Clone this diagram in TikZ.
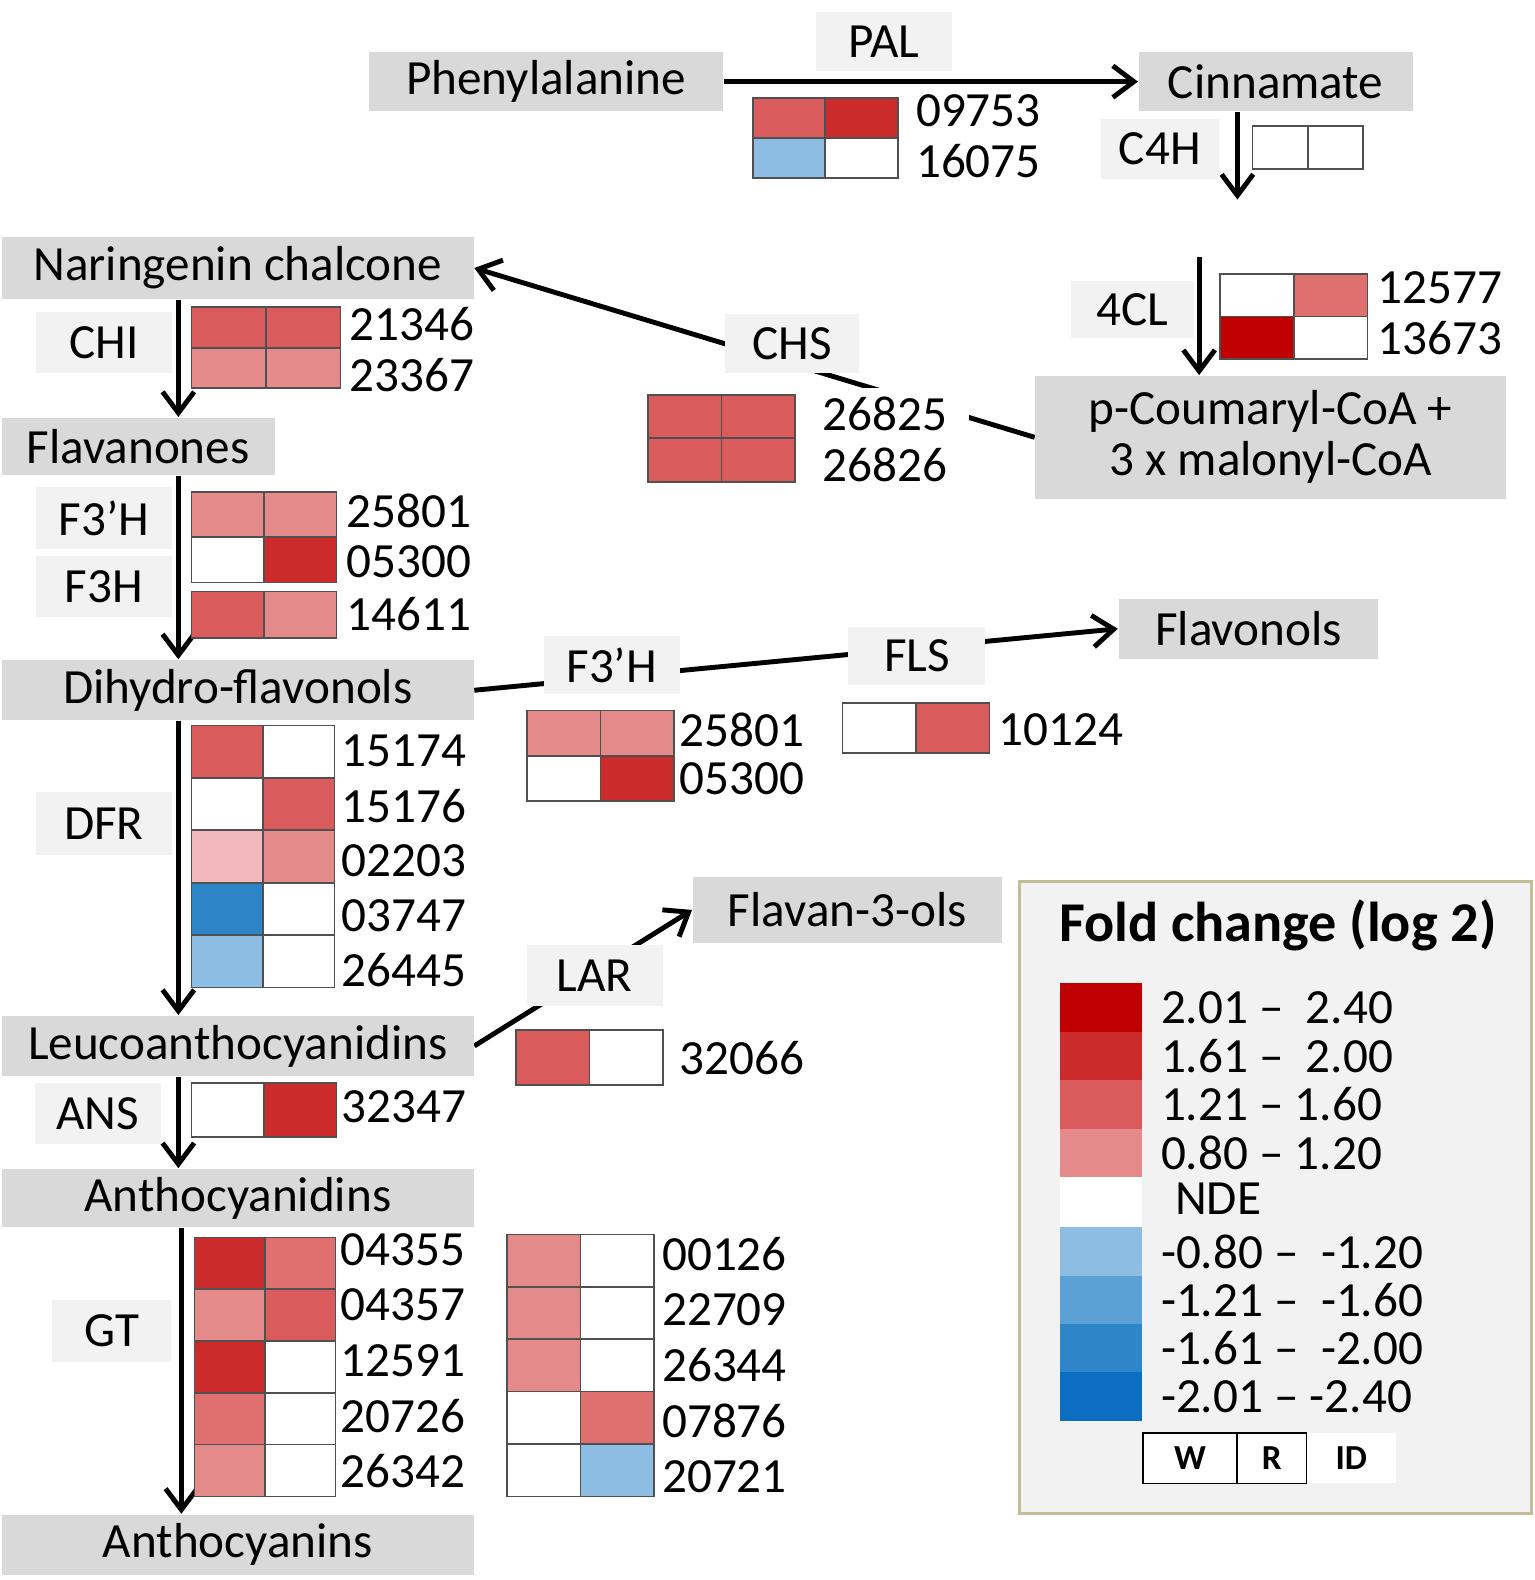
\documentclass[tikz,border=0pt]{standalone}
\usepackage{fontspec}
\setmainfont{Carlito}
\usepackage{tikz}
\usetikzlibrary{arrows.meta,backgrounds}

\definecolor{cmpgray}{HTML}{D9D9D9}
\definecolor{enzgray}{HTML}{F2F2F2}
\definecolor{cellgray}{HTML}{505050}
\definecolor{legframe}{HTML}{C4BD97}
\definecolor{fc1}{HTML}{C00000}
\definecolor{fc2}{HTML}{CC2B2B}
\definecolor{fc3}{HTML}{D95B5B}
\definecolor{fcm}{HTML}{E07070}
\definecolor{fc4}{HTML}{E48A8A}
\definecolor{fcl}{HTML}{F0B8BA}
\definecolor{nb1}{HTML}{8DBDE2}
\definecolor{nb2}{HTML}{5BA1D6}
\definecolor{nb3}{HTML}{2E86C9}
\definecolor{nb4}{HTML}{0B6EC0}

\newcommand{\pathfont}{\fontsize{14}{14.5}\selectfont}

\tikzset{
	boxsize/.style 2 args={minimum width=#1*0.01008cm, minimum height=#2*0.01008cm},
	compound/.style={fill=cmpgray, inner sep=0pt, font=\pathfont},
	enzyme/.style={fill=enzgray, inner sep=0pt, font=\pathfont},
	geneid/.style={anchor=west, inner sep=1pt, font=\pathfont},
	cell/.style={draw=cellgray, line width=0.5pt},
	pathway/.style={line width=1.4pt, -{Straight Barb[length=6pt,width=9pt,line width=1.4pt]}},
	legkey/.style={inner sep=0pt, font=\fontsize{10}{12}\selectfont\bfseries},
}

\begin{document}
\begin{tikzpicture}[x=0.01008cm, y=-0.01008cm]
	\useasboundingbox (0,0) rectangle (1523,1568);

	% Compounds
	\node[compound, boxsize={351}{58}] (phe) at (542,81) {Phenylalanine};
	\node[compound, boxsize={272}{58}] (cin) at (1266,81) {Cinnamate};
	\node[compound, boxsize={467}{122}, align=center] (cou) at (1261,434) {p-Coumaryl-CoA +\\3 x malonyl-CoA};
	\node[compound, boxsize={468}{62}] (nar) at (236,266) {Naringenin chalcone};
	\node[compound, boxsize={271}{57}] (flan) at (137,443) {Flavanones};
	\node[compound, boxsize={468}{60}] (dih) at (236,685) {Dihydro-flavonols};
	\node[compound, boxsize={258}{60}] (flavonols) at (1239,624) {Flavonols};
	\node[compound, boxsize={468}{60}] (leu) at (236,1038) {Leucoanthocyanidins};
	\node[compound, boxsize={307}{65}] (flavan) at (841,903) {Flavan-3-ols};
	\node[compound, boxsize={468}{58}] (anthd) at (236,1189) {Anthocyanidins};
	\node[compound, boxsize={468}{60}] (anthn) at (236,1533) {Anthocyanins};

	% Enzymes
	\node[enzyme, boxsize={135}{58}] (pal) at (877,41) {PAL};
	\node[enzyme, boxsize={117}{60}] (c4h) at (1151,148) {C4H};
	\node[enzyme, boxsize={122}{56}] (cl4) at (1124,307) {4CL};
	\node[enzyme, boxsize={133}{58}] (chs) at (786,341) {CHS};
	\node[enzyme, boxsize={135}{60}] (chi) at (103,340) {CHI};
	\node[enzyme, boxsize={135}{62}] (fth) at (103,514) {F3’H};
	\node[enzyme, boxsize={135}{60}] (fh) at (103,582) {F3H};
	\node[enzyme, boxsize={135}{58}] (fthb) at (607,660) {F3’H};
	\node[enzyme, boxsize={136}{58}] (fls) at (910,651) {FLS};
	\node[enzyme, boxsize={135}{63}] (dfr) at (103,817) {DFR};
	\node[enzyme, boxsize={135}{60}] (lar) at (590,968) {LAR};
	\node[enzyme, boxsize={125}{60}] (ans) at (97,1105) {ANS};
	\node[enzyme, boxsize={118}{62}] (gt) at (111,1321) {GT};

	% Heat maps
	%PAL
	\foreach \r/\ca/\cb/\id in {0/fc3/fc2/09753, 1/nb1/white/16075}{
		\filldraw[cell, fill=\ca] (747,97+\r*40) rectangle ++(72,40);
		\filldraw[cell, fill=\cb] (819,97+\r*40) rectangle ++(72,40);
		\node[geneid] (pal\id) at (905,110+\r*50) {\id};
	}
	%C4H
	\filldraw[cell, fill=white] (1243,125) rectangle ++(55,43);
	\filldraw[cell, fill=white] (1298,125) rectangle ++(55,43);
	%4CL
	\foreach \r/\ca/\cb/\id in {0/white/fcm/12577, 1/fc1/white/13673}{
		\filldraw[cell, fill=\ca] (1211,272+\r*42) rectangle ++(73,42);
		\filldraw[cell, fill=\cb] (1284,272+\r*42) rectangle ++(73,42);
		\node[geneid] (cl\id) at (1363,286+\r*50) {\id};
	}
	%CHS
	\foreach \r/\ca/\cb/\id in {0/fc3/fc3/26825, 1/fc3/fc3/26826}{
		\filldraw[cell, fill=\ca] (643,392+\r*43) rectangle ++(73,43);
		\filldraw[cell, fill=\cb] (716,392+\r*43) rectangle ++(73,43);
		\node[geneid, fill=white, inner xsep=6pt, inner ysep=2.5pt] (chs\id) at (795,411+\r*50) {\id};
	}
	%CHI
	\foreach \r/\ca/\cb/\id in {0/fc3/fc3/21346, 1/fc4/fc4/23367}{
		\filldraw[cell, fill=\ca] (190,305+\r*40) rectangle ++(74,40);
		\filldraw[cell, fill=\cb] (264,305+\r*40) rectangle ++(74,40);
		\node[geneid] (chi\id) at (343,322+\r*50) {\id};
	}
	%F3'H and F3H
	\foreach \r/\ca/\cb/\id in {0/fc4/fc4/25801, 1/white/fc2/05300}{
		\filldraw[cell, fill=\ca] (190,488+\r*45) rectangle ++(72,45);
		\filldraw[cell, fill=\cb] (262,488+\r*45) rectangle ++(72,45);
		\node[geneid] (fth\id) at (340,507+\r*50) {\id};
	}
	\filldraw[cell, fill=fc3] (190,587) rectangle ++(72,46);
	\filldraw[cell, fill=fc4] (262,587) rectangle ++(72,46);
	\node[geneid] (fh14611) at (340,609) {14611};
	%F3'H side branch
	\foreach \r/\ca/\cb/\id in {0/fc4/fc4/25801, 1/white/fc2/05300}{
		\filldraw[cell, fill=\ca] (523,705+\r*45) rectangle ++(73,45);
		\filldraw[cell, fill=\cb] (596,705+\r*45) rectangle ++(73,45);
		\node[geneid] (fthb\id) at (670,724+\r*49) {\id};
	}
	%FLS
	\filldraw[cell, fill=white] (836,698) rectangle ++(73,49);
	\filldraw[cell, fill=fc3] (909,698) rectangle ++(73,49);
	\node[geneid] (fls10124) at (987,724) {10124};
	%DFR
	\foreach \r/\ca/\cb/\id in {0/fc3/white/15174, 1/white/fc3/15176, 2/fcl/fc4/02203, 3/nb3/white/03747, 4/nb1/white/26445}{
		\filldraw[cell, fill=\ca] (190,720+\r*52) rectangle ++(71,52);
		\filldraw[cell, fill=\cb] (261,720+\r*52) rectangle ++(71,52);
		\node[geneid] (dfr\id) at (335,745+\r*54.5) {\id};
	}
	%LAR
	\filldraw[cell, fill=fc3] (512,1022) rectangle ++(73,55);
	\filldraw[cell, fill=white] (585,1022) rectangle ++(73,55);
	\node[geneid] (lar32066) at (670,1050) {32066};
	%ANS
	\filldraw[cell, fill=white] (190,1075) rectangle ++(72,53);
	\filldraw[cell, fill=fc2] (262,1075) rectangle ++(72,53);
	\node[geneid] (ans32347) at (335,1098) {32347};
	%GT
	\foreach \r/\ca/\cb/\id in {0/fc2/fcm/04355, 1/fc4/fc3/04357, 2/fc2/white/12591, 3/fcm/white/20726, 4/fc4/white/26342}{
		\filldraw[cell, fill=\ca] (193,1228+\r*51.4) rectangle ++(70,51.4);
		\filldraw[cell, fill=\cb] (263,1228+\r*51.4) rectangle ++(70,51.4);
		\node[geneid] (gt\id) at (334,1240+\r*55) {\id};
	}
	\foreach \r/\ca/\cb/\id in {0/fc4/white/00126, 1/fc4/white/22709, 2/fc4/white/26344, 3/white/fcm/07876, 4/white/nb1/20721}{
		\filldraw[cell, fill=\ca] (503,1225+\r*52) rectangle ++(73,52);
		\filldraw[cell, fill=\cb] (576,1225+\r*52) rectangle ++(73,52);
		\node[geneid] (gtb\id) at (653,1245+\r*55) {\id};
	}

	% Connectors
	\coordinate (spine) at (177,0);
	\coordinate (spineb) at (180,0);
	\coordinate (c4hx) at (1228,0);
	\coordinate (c4hend) at (1228,198);
	\coordinate (clstart) at (1190,255);
	\begin{scope}[on background layer]
		\draw[pathway] (phe) -- (cin);
		\draw[pathway] (cin.south -| c4hx) -- (c4hend);
		\draw[pathway] (clstart) -- (cou.north -| clstart);
		\draw[pathway] (cou.west) -- (nar.east);
		\draw[pathway] (nar.south -| spine) -- (flan.north -| spine);
		\draw[pathway] (flan.south -| spine) -- (dih.north -| spine);
		\draw[pathway] (dih.east) -- (flavonols.west);
		\draw[pathway] (dih.south -| spine) -- (leu.north -| spine);
		\draw[pathway] (leu.east) -- (flavan.west);
		\draw[pathway] (leu.south -| spine) -- (anthd.north -| spine);
		\draw[pathway] (anthd.south -| spineb) -- (anthn.north -| spineb);
	\end{scope}

	% Legend
	\filldraw[fill=enzgray, draw=legframe, line width=0.9pt] (1012,875) rectangle (1520,1502);
	\node[font=\fontsize{16}{18}\selectfont\bfseries] (legtitle) at (1268,918) {Fold change (log 2)};
	\foreach \i/\c/\t in {0/fc1/{2.01 --\ \ 2.40}, 1/fc2/{1.61 --\ \ 2.00}, 2/fc3/{1.21 -- 1.60}, 3/fc4/{0.80 -- 1.20}}{
		\fill[\c] (1052,976+\i*48) rectangle ++(81,48);
		\node[geneid] (legr\i) at (1148,1000+\i*48) {\t};
	}
	\fill[white] (1052,1168) rectangle ++(81,50);
	\node[geneid] (legnde) at (1162,1190) {NDE};
	\foreach \i/\c/\t in {0/nb1/{-0.80 --\ \ -1.20}, 1/nb2/{-1.21 --\ \ -1.60}, 2/nb3/{-1.61 --\ \ -2.00}, 3/nb4/{-2.01 -- -2.40}}{
		\fill[\c] (1052,1218+\i*48) rectangle ++(81,48);
		\node[geneid] (legb\i) at (1148,1242+\i*48) {\t};
	}
	\node[legkey, boxsize={93}{50}, draw, fill=white] (keyw) at (1181,1447) {W};
	\node[legkey, boxsize={69}{50}, draw, fill=white] (keyr) at (1262,1447) {R};
	\node[legkey, boxsize={88}{50}, fill=white] (keyid) at (1341,1447) {ID};

\end{tikzpicture}
\end{document}
